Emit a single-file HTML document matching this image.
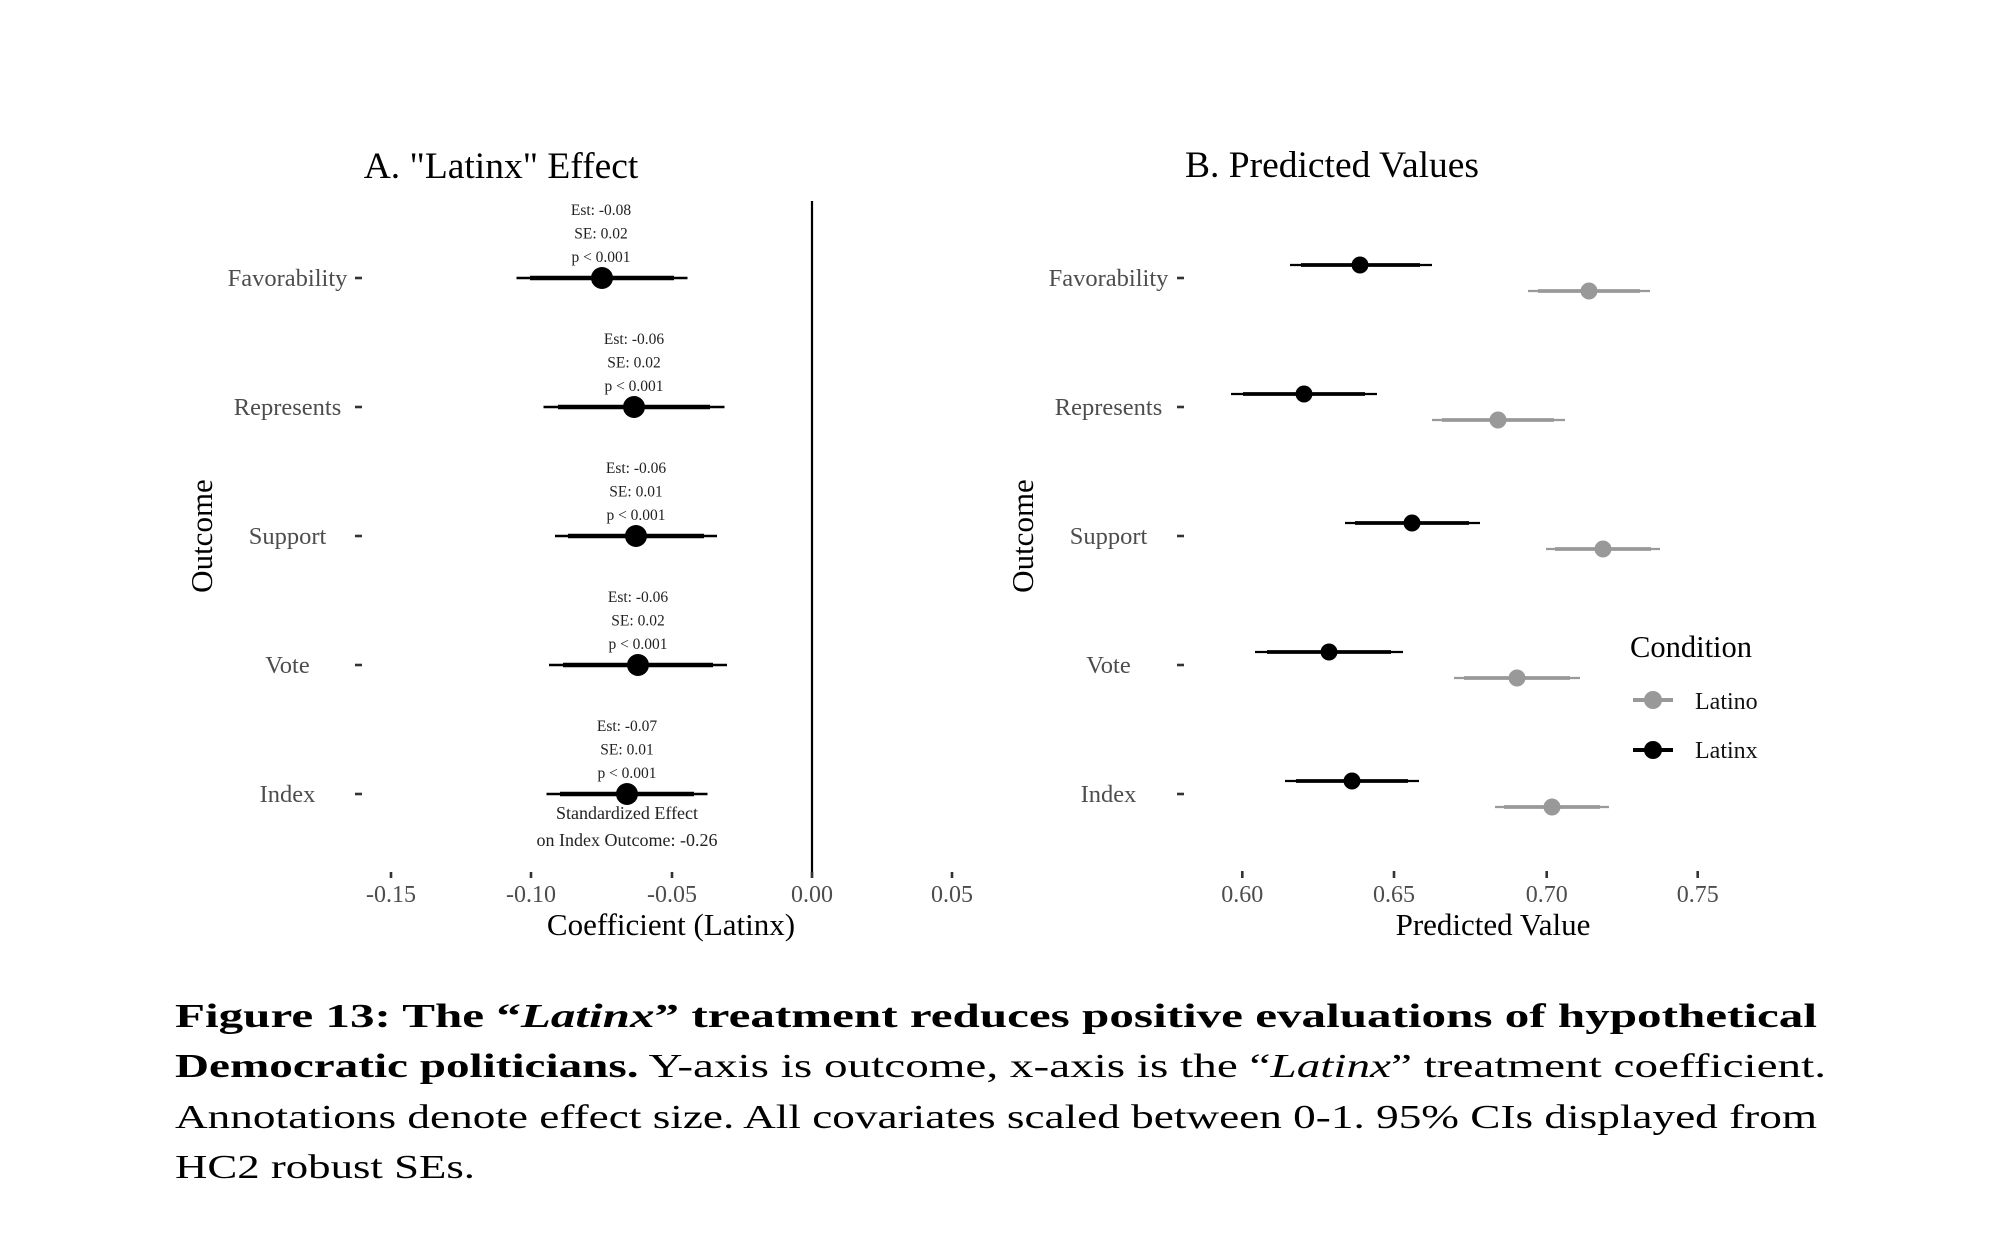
<!DOCTYPE html>
<html>
<head>
<meta charset="utf-8">
<style>
  html, body { margin:0; padding:0; background:#ffffff; }
  svg { display:block; }
  text { font-family: "Liberation Serif", "Times New Roman", serif; }
</style>
</head>
<body>
<svg width="2000" height="1236" viewBox="0 0 2000 1236" xmlns="http://www.w3.org/2000/svg">
  <rect x="0" y="0" width="2000" height="1236" fill="#ffffff"/>

  <!-- ================= PANEL A ================= -->
  <text x="501" y="178" font-size="37.5" text-anchor="middle" fill="#000">A. "Latinx" Effect</text>

  <!-- zero line -->
  <line x1="812" y1="201" x2="812" y2="878" stroke="#000" stroke-width="2.2"/>

  <!-- y labels -->
  <g font-size="24.5" fill="#4d4d4d" text-anchor="middle">
    <text x="287.5" y="286">Favorability</text>
    <text x="287.5" y="415">Represents</text>
    <text x="287.5" y="544">Support</text>
    <text x="287.5" y="673">Vote</text>
    <text x="287.5" y="802">Index</text>
  </g>
  <g stroke="#333" stroke-width="2.6">
    <line x1="355" y1="278" x2="362" y2="278"/>
    <line x1="355" y1="407" x2="362" y2="407"/>
    <line x1="355" y1="536" x2="362" y2="536"/>
    <line x1="355" y1="665" x2="362" y2="665"/>
    <line x1="355" y1="794" x2="362" y2="794"/>
  </g>
  <text transform="translate(212,536) rotate(-90)" font-size="31" text-anchor="middle" fill="#000">Outcome</text>

  <!-- x ticks -->
  <g stroke="#333" stroke-width="2.6">
    <line x1="391" y1="872" x2="391" y2="878"/>
    <line x1="531" y1="872" x2="531" y2="878"/>
    <line x1="672" y1="872" x2="672" y2="878"/>
    <line x1="812" y1="872" x2="812" y2="878"/>
    <line x1="952" y1="872" x2="952" y2="878"/>
  </g>
  <g font-size="24" fill="#4d4d4d" text-anchor="middle">
    <text x="391" y="902">-0.15</text>
    <text x="531" y="902">-0.10</text>
    <text x="672" y="902">-0.05</text>
    <text x="812" y="902">0.00</text>
    <text x="952" y="902">0.05</text>
  </g>
  <text x="671" y="935" font-size="31" text-anchor="middle" fill="#000">Coefficient (Latinx)</text>

  <!-- point ranges A -->
  <g stroke="#000" stroke-linecap="butt">
    <line x1="516.5" y1="278" x2="687.5" y2="278" stroke-width="2.6"/>
    <line x1="530" y1="278" x2="674" y2="278" stroke-width="4.6"/>
    <line x1="543.5" y1="407" x2="724.5" y2="407" stroke-width="2.6"/>
    <line x1="558" y1="407" x2="710" y2="407" stroke-width="4.6"/>
    <line x1="555" y1="536" x2="717" y2="536" stroke-width="2.6"/>
    <line x1="568" y1="536" x2="704" y2="536" stroke-width="4.6"/>
    <line x1="549" y1="665" x2="727" y2="665" stroke-width="2.6"/>
    <line x1="563" y1="665" x2="713" y2="665" stroke-width="4.6"/>
    <line x1="546.5" y1="794" x2="707.5" y2="794" stroke-width="2.6"/>
    <line x1="560" y1="794" x2="694" y2="794" stroke-width="4.6"/>
  </g>
  <g fill="#000">
    <circle cx="602" cy="278" r="11"/>
    <circle cx="634" cy="407" r="11"/>
    <circle cx="636" cy="536" r="11"/>
    <circle cx="638" cy="665" r="11"/>
    <circle cx="627" cy="794" r="11"/>
  </g>

  <!-- annotations -->
  <g font-size="15.5" fill="#222" text-anchor="middle">
    <text x="601" y="215">Est: -0.08</text>
    <text x="601" y="238.5">SE: 0.02</text>
    <text x="601" y="262">p &lt; 0.001</text>

    <text x="634" y="344">Est: -0.06</text>
    <text x="634" y="367.5">SE: 0.02</text>
    <text x="634" y="391">p &lt; 0.001</text>

    <text x="636" y="473">Est: -0.06</text>
    <text x="636" y="496.5">SE: 0.01</text>
    <text x="636" y="520">p &lt; 0.001</text>

    <text x="638" y="602">Est: -0.06</text>
    <text x="638" y="625.5">SE: 0.02</text>
    <text x="638" y="649">p &lt; 0.001</text>

    <text x="627" y="731">Est: -0.07</text>
    <text x="627" y="754.5">SE: 0.01</text>
    <text x="627" y="778">p &lt; 0.001</text>
  </g>
  <g font-size="18" fill="#222" text-anchor="middle">
    <text x="627" y="819">Standardized Effect</text>
    <text x="627" y="846">on Index Outcome: -0.26</text>
  </g>

  <!-- ================= PANEL B ================= -->
  <text x="1332" y="177" font-size="37.5" text-anchor="middle" fill="#000">B. Predicted Values</text>

  <g font-size="24.5" fill="#4d4d4d" text-anchor="middle">
    <text x="1108.5" y="286">Favorability</text>
    <text x="1108.5" y="415">Represents</text>
    <text x="1108.5" y="544">Support</text>
    <text x="1108.5" y="673">Vote</text>
    <text x="1108.5" y="802">Index</text>
  </g>
  <g stroke="#333" stroke-width="2.6">
    <line x1="1177" y1="278" x2="1184" y2="278"/>
    <line x1="1177" y1="407" x2="1184" y2="407"/>
    <line x1="1177" y1="536" x2="1184" y2="536"/>
    <line x1="1177" y1="665" x2="1184" y2="665"/>
    <line x1="1177" y1="794" x2="1184" y2="794"/>
  </g>
  <text transform="translate(1033,536) rotate(-90)" font-size="31" text-anchor="middle" fill="#000">Outcome</text>

  <g stroke="#333" stroke-width="2.6">
    <line x1="1242.3" y1="871" x2="1242.3" y2="878"/>
    <line x1="1394" y1="871" x2="1394" y2="878"/>
    <line x1="1546.7" y1="871" x2="1546.7" y2="878"/>
    <line x1="1697.7" y1="871" x2="1697.7" y2="878"/>
  </g>
  <g font-size="24" fill="#4d4d4d" text-anchor="middle">
    <text x="1242.3" y="902">0.60</text>
    <text x="1394" y="902">0.65</text>
    <text x="1546.7" y="902">0.70</text>
    <text x="1697.7" y="902">0.75</text>
  </g>
  <text x="1493" y="935" font-size="31" text-anchor="middle" fill="#000">Predicted Value</text>

  <!-- Latino (gray) -->
  <g stroke="#999999">
    <line x1="1528" y1="291" x2="1650" y2="291" stroke-width="2.2"/>
    <line x1="1538" y1="291" x2="1640" y2="291" stroke-width="3.8"/>
    <line x1="1432" y1="420" x2="1565" y2="420" stroke-width="2.2"/>
    <line x1="1442" y1="420" x2="1554" y2="420" stroke-width="3.8"/>
    <line x1="1546" y1="549" x2="1660" y2="549" stroke-width="2.2"/>
    <line x1="1555" y1="549" x2="1651" y2="549" stroke-width="3.8"/>
    <line x1="1454" y1="678" x2="1580" y2="678" stroke-width="2.2"/>
    <line x1="1464" y1="678" x2="1570" y2="678" stroke-width="3.8"/>
    <line x1="1495" y1="807" x2="1609" y2="807" stroke-width="2.2"/>
    <line x1="1504" y1="807" x2="1600" y2="807" stroke-width="3.8"/>
  </g>
  <g fill="#999999">
    <circle cx="1589" cy="291" r="8.5"/>
    <circle cx="1498" cy="420" r="8.5"/>
    <circle cx="1603" cy="549" r="8.5"/>
    <circle cx="1517" cy="678" r="8.5"/>
    <circle cx="1552" cy="807" r="8.5"/>
  </g>

  <!-- Latinx (black) -->
  <g stroke="#000">
    <line x1="1290" y1="265" x2="1432" y2="265" stroke-width="2.2"/>
    <line x1="1301" y1="265" x2="1420" y2="265" stroke-width="3.8"/>
    <line x1="1231" y1="394" x2="1377" y2="394" stroke-width="2.2"/>
    <line x1="1243" y1="394" x2="1365" y2="394" stroke-width="3.8"/>
    <line x1="1345" y1="523" x2="1480" y2="523" stroke-width="2.2"/>
    <line x1="1355" y1="523" x2="1469" y2="523" stroke-width="3.8"/>
    <line x1="1255" y1="652" x2="1403" y2="652" stroke-width="2.2"/>
    <line x1="1267" y1="652" x2="1391" y2="652" stroke-width="3.8"/>
    <line x1="1285" y1="781" x2="1419" y2="781" stroke-width="2.2"/>
    <line x1="1296" y1="781" x2="1408" y2="781" stroke-width="3.8"/>
  </g>
  <g fill="#000">
    <circle cx="1360" cy="265" r="8.5"/>
    <circle cx="1304" cy="394" r="8.5"/>
    <circle cx="1412" cy="523" r="8.5"/>
    <circle cx="1329" cy="652" r="8.5"/>
    <circle cx="1352" cy="781" r="8.5"/>
  </g>

  <!-- legend -->
  <text x="1630" y="657" font-size="30.5" fill="#000">Condition</text>
  <line x1="1633" y1="700" x2="1673" y2="700" stroke="#999999" stroke-width="4"/>
  <circle cx="1653" cy="700" r="9" fill="#999999"/>
  <text x="1695" y="709" font-size="24" fill="#111">Latino</text>
  <line x1="1633" y1="750" x2="1673" y2="750" stroke="#000" stroke-width="4"/>
  <circle cx="1653" cy="750" r="9" fill="#000"/>
  <text x="1695" y="758" font-size="24" fill="#111">Latinx</text>

  <!-- ================= CAPTION ================= -->
  <g font-size="34" fill="#000">
    <text x="175" y="1027" textLength="1642" lengthAdjust="spacingAndGlyphs" font-weight="bold">Figure 13: The “<tspan font-style="italic">Latinx</tspan>” treatment reduces positive evaluations of hypothetical</text>
    <text x="175" y="1077" textLength="1651" lengthAdjust="spacingAndGlyphs"><tspan font-weight="bold">Democratic politicians.</tspan> Y-axis is outcome, x-axis is the “<tspan font-style="italic">Latinx</tspan>” treatment coefficient.</text>
    <text x="175" y="1128" textLength="1642" lengthAdjust="spacingAndGlyphs">Annotations denote effect size. All covariates scaled between 0-1. 95% CIs displayed from</text>
    <text x="175" y="1178" textLength="300" lengthAdjust="spacingAndGlyphs">HC2 robust SEs.</text>
  </g>
</svg>
</body>
</html>
